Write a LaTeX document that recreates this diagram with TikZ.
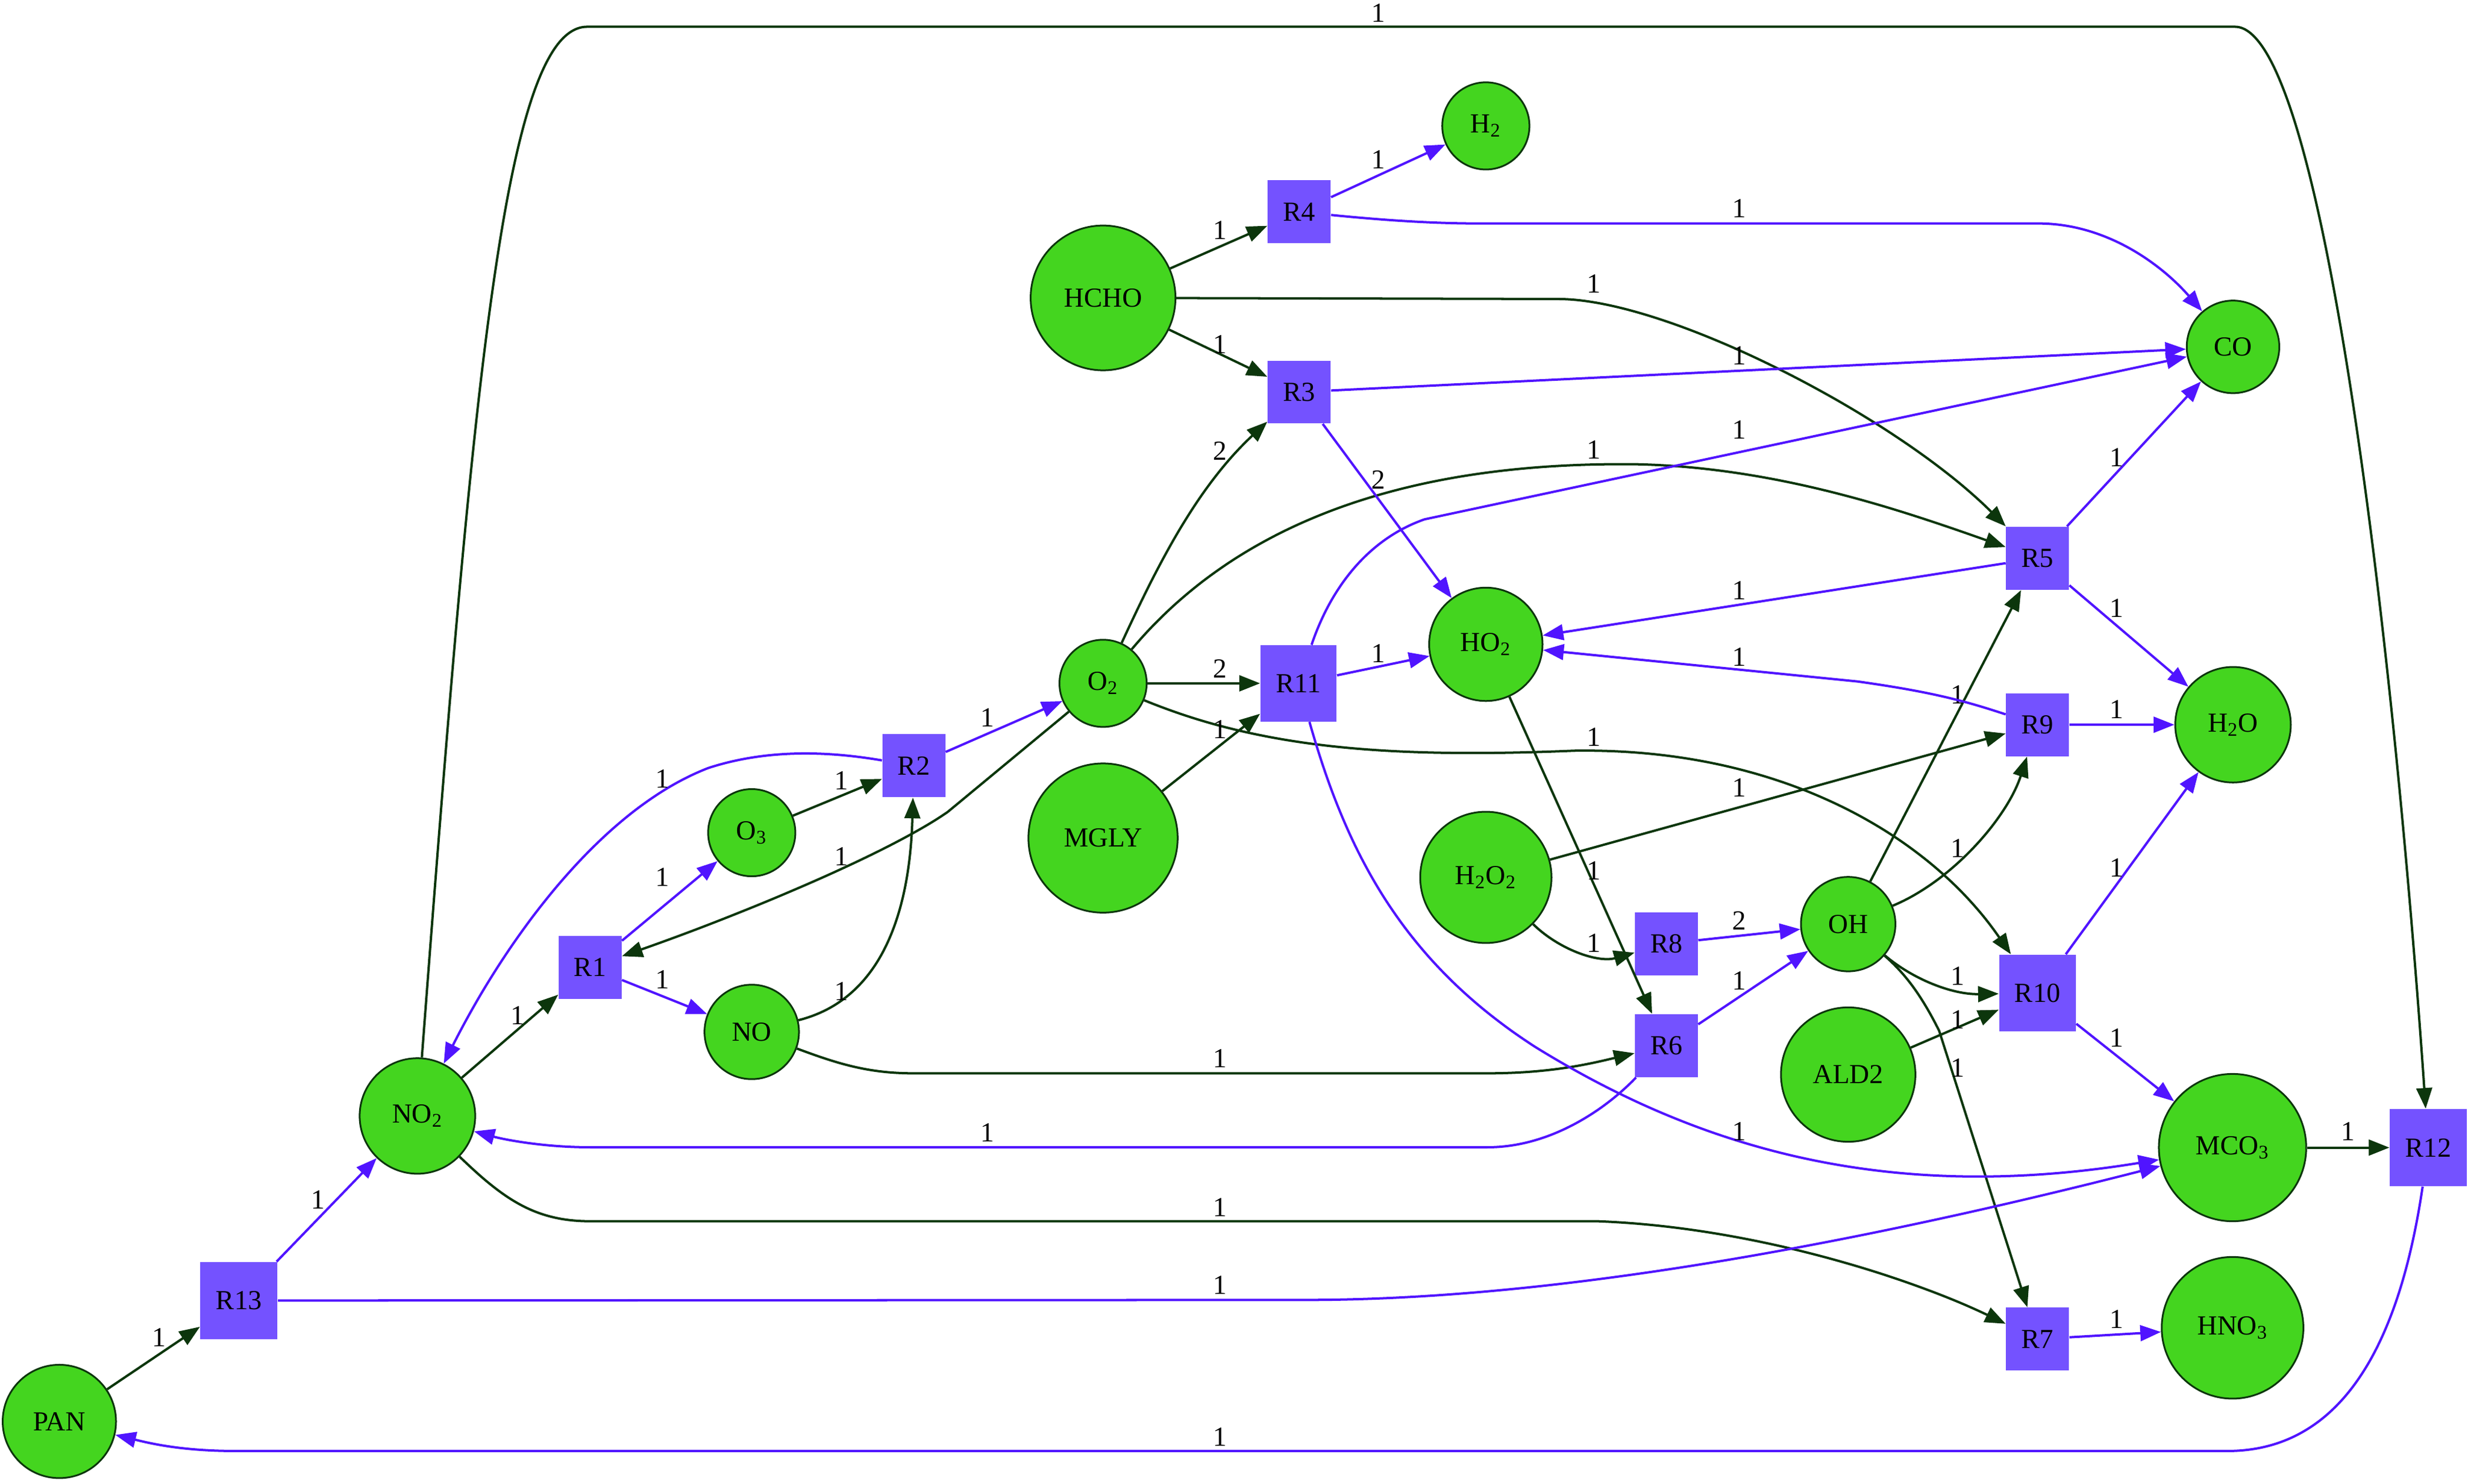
\documentclass[tikz,border=0pt]{standalone}
\usepackage{fontspec}
\setmainfont{Liberation Serif}
\usetikzlibrary{arrows.meta}
\definecolor{spcgreen}{RGB}{68,213,31}
\definecolor{rctgreen}{RGB}{12,54,12}
\definecolor{rxnblue}{RGB}{116,82,255}
\definecolor{prdblue}{RGB}{80,20,255}
\begin{document}
\begin{tikzpicture}[x=0.8pt, y=-0.8pt,
  spc/.style={circle, draw=rctgreen, line width=0.9pt, fill=spcgreen, inner sep=0pt, minimum size=#1*1.6pt, font=\fontsize{14}{16}\selectfont},
  rxn/.style={rectangle, fill=rxnblue, inner sep=0pt, minimum size=#1*0.8pt, font=\fontsize{14}{16}\selectfont},
  rct/.style={draw=rctgreen, line width=1.2pt, -{Triangle[length=10.5pt,width=8pt]}},
  prd/.style={draw=prdblue, line width=1.2pt, -{Triangle[length=10.5pt,width=8pt]}},
  lbl/.style={inner sep=0pt, font=\fontsize{14}{16}\selectfont}]
\useasboundingbox (0,0) rectangle (1568,942.6);
\node[spc=46] (HCHO) at (700.8,189.3) {HCHO};
\node[spc=27.7] (H2) at (944,80) {H\textsubscript{2}};
\node[rxn=40] (R4) at (825.4,134.6) {R4};
\node[rxn=40] (R3) at (825.4,249.1) {R3};
\node[spc=29.4] (CO) at (1418.7,220.4) {CO};
\node[spc=27.7] (O2) at (700.8,434.2) {O\textsubscript{2}};
\node[rxn=48.4] (R11) at (825,434.2) {R11};
\node[spc=36] (HO2) at (944,409.4) {HO\textsubscript{2}};
\node[rxn=40] (R2) at (580.6,486.6) {R2};
\node[rxn=40] (R5) at (1294.5,354.7) {R5};
\node[rxn=40] (R9) at (1294.5,460.5) {R9};
\node[spc=36.7] (H2O) at (1418.7,460.5) {H\textsubscript{2}O};
\node[spc=36] (PAN) at (37.7,903.2) {PAN};
\node[rxn=49] (R13) at (151.8,826.4) {R13};
\node[spc=36.7] (NO2) at (265.2,709.1) {NO\textsubscript{2}};
\node[rxn=40] (R1) at (374.9,614.6) {R1};
\node[spc=27.7] (O3) at (477.6,529.1) {O\textsubscript{3}};
\node[spc=30] (NO) at (477.6,655.7) {NO};
\node[spc=47.4] (MGLY) at (700.8,532.5) {MGLY};
\node[spc=41.7] (H2O2) at (944,557.5) {H\textsubscript{2}O\textsubscript{2}};
\node[rxn=40] (R8) at (1058.7,599.6) {R8};
\node[rxn=40] (R6) at (1058.7,664.4) {R6};
\node[spc=30] (OH) at (1174.2,587.2) {OH};
\node[spc=42.7] (ALD2) at (1174.2,682.8) {ALD2};
\node[rxn=48.8] (R10) at (1294.5,631) {R10};
\node[spc=46.8] (MCO3) at (1418.4,729.2) {MCO\textsubscript{3}};
\node[rxn=49] (R12) at (1542.8,729.2) {R12};
\node[rxn=40] (R7) at (1294.5,850.9) {R7};
\node[spc=45] (HNO3) at (1418.4,843.7) {HNO\textsubscript{3}};
\draw[rct] (HCHO) -- (R4) node[lbl] at (775,146.3) {1};
\draw[rct] (HCHO) -- (R3) node[lbl] at (775,218.8) {1};
\draw[rct] (HCHO) -- (990,190) .. controls (1060,190) and (1205,265) .. (R5) node[lbl] at (1012.5,180.4) {1};
\draw[rct] (O2) .. controls (735,360) and (760,310) .. (R3) node[lbl] at (775,286.6) {2};
\draw[rct] (O2) .. controls (780,340) and (880,293) .. (1040,295) .. controls (1130,297) and (1210,325) .. (R5) node[lbl] at (1012.5,285.6) {1};
\draw[rct] (O2) -- (R11) node[lbl] at (775,424.8) {2};
\draw[rct] (O2) -- (602,516) .. controls (560,545) and (460,585) .. (R1) node[lbl] at (534.6,544.2) {1};
\draw[rct] (O2) .. controls (800,475) and (880,482) .. (1000,477) .. controls (1130,475) and (1225,530) .. (R10) node[lbl] at (1012.5,468.3) {1};
\draw[rct] (MGLY) -- (R11) node[lbl] at (775,463.6) {1};
\draw[rct] (O3) -- (R2) node[lbl] at (534.6,496) {1};
\draw[rct] (NO) .. controls (560,635) and (578,580) .. (R2) node[lbl] at (534.6,630) {1};
\draw[rct] (NO) .. controls (530,675) and (550,682) .. (580,682) -- (945,682) .. controls (985,682) and (1010,676) .. (R6) node[lbl] at (775,672.7) {1};
\draw[rct] (NO2) -- (R1) node[lbl] at (329,645.4) {1};
\draw[rct] (NO2) .. controls (300,250) and (320,17) .. (373,17) -- (1420,17) .. controls (1475,17) and (1520,400) .. (R12) node[lbl] at (875.6,8.3) {1};
\draw[rct] (NO2) .. controls (320,762) and (340,776) .. (375,776) -- (1015,776) .. controls (1120,780) and (1220,815) .. (R7) node[lbl] at (775,767.3) {1};
\draw[rct] (PAN) -- (R13) node[lbl] at (100.9,849.8) {1};
\draw[rct] (HO2) -- (R6) node[lbl] at (1012.5,553.2) {1};
\draw[rct] (H2O2) -- (R9) node[lbl] at (1105.1,500.3) {1};
\draw[rct] (H2O2) .. controls (990,603) and (1015,612) .. (R8) node[lbl] at (1012.5,599.3) {1};
\draw[rct] (OH) -- (R5) node[lbl] at (1243.7,441.5) {1};
\draw[rct] (OH) .. controls (1240,560) and (1275,520) .. (R9) node[lbl] at (1243.7,539.1) {1};
\draw[rct] (OH) .. controls (1215,622) and (1240,632) .. (R10) node[lbl] at (1243.7,620) {1};
\draw[rct] (OH) .. controls (1212,620) and (1222,635) .. (1232,655) -- (R7) node[lbl] at (1243.7,678.4) {1};
\draw[rct] (ALD2) -- (R10) node[lbl] at (1243.7,647.7) {1};
\draw[rct] (MCO3) -- (R12) node[lbl] at (1491.9,718.8) {1};
\draw[prd] (R4) -- (H2) node[lbl] at (875.6,101.2) {1};
\draw[prd] (R4) .. controls (880,140) and (910,142) .. (940,142) -- (1295,142) .. controls (1340,142) and (1375,170) .. (CO) node[lbl] at (1105.1,132.6) {1};
\draw[prd] (R3) -- (CO) node[lbl] at (1105.1,226.1) {1};
\draw[prd] (R3) -- (HO2) node[lbl] at (875.6,305) {2};
\draw[prd] (R11) -- (HO2) node[lbl] at (875.6,415.2) {1};
\draw[prd] (R11) .. controls (845,375) and (868,343) .. (905,330) -- (CO) node[lbl] at (1105.1,273.2) {1};
\draw[prd] (R11) .. controls (855,540) and (890,610) .. (975,665) .. controls (1080,730) and (1200,765) .. (MCO3) node[lbl] at (1105.1,718.8) {1};
\draw[prd] (R2) -- (O2) node[lbl] at (627.4,455.9) {1};
\draw[prd] (R2) .. controls (530,478) and (490,475) .. (450,488) .. controls (380,515) and (320,600) .. (NO2) node[lbl] at (420.8,495) {1};
\draw[prd] (R1) -- (O3) node[lbl] at (420.8,557.5) {1};
\draw[prd] (R1) -- (NO) node[lbl] at (420.8,622.6) {1};
\draw[prd] (R5) -- (CO) node[lbl] at (1344.9,290.6) {1};
\draw[prd] (R5) -- (HO2) node[lbl] at (1105.1,375.1) {1};
\draw[prd] (R5) -- (H2O) node[lbl] at (1344.9,386.4) {1};
\draw[prd] (R9) .. controls (1250,446) and (1230,440) .. (1180,433) -- (HO2) node[lbl] at (1105.1,417.5) {1};
\draw[prd] (R9) -- (H2O) node[lbl] at (1344.9,450.9) {1};
\draw[prd] (R8) -- (OH) node[lbl] at (1105.1,584.9) {2};
\draw[prd] (R6) -- (OH) node[lbl] at (1105.1,623.3) {1};
\draw[prd] (R6) .. controls (1020,705) and (985,729) .. (945,729) -- (375,729) .. controls (345,729) and (320,724) .. (NO2) node[lbl] at (627.4,719.5) {1};
\draw[prd] (R10) -- (H2O) node[lbl] at (1344.9,551.5) {1};
\draw[prd] (R10) -- (MCO3) node[lbl] at (1344.9,659.4) {1};
\draw[prd] (R7) -- (HNO3) node[lbl] at (1344.9,838.1) {1};
\draw[prd] (R12) .. controls (1525,850) and (1490,922) .. (1415,922) -- (150,922) .. controls (115,922) and (95,917) .. (PAN) node[lbl] at (775,913.2) {1};
\draw[prd] (R13) -- (NO2) node[lbl] at (202,762.3) {1};
\draw[prd] (R13) -- (830,826) .. controls (1000,826) and (1200,785) .. (MCO3) node[lbl] at (775,816.4) {1};
\end{tikzpicture}
\end{document}
